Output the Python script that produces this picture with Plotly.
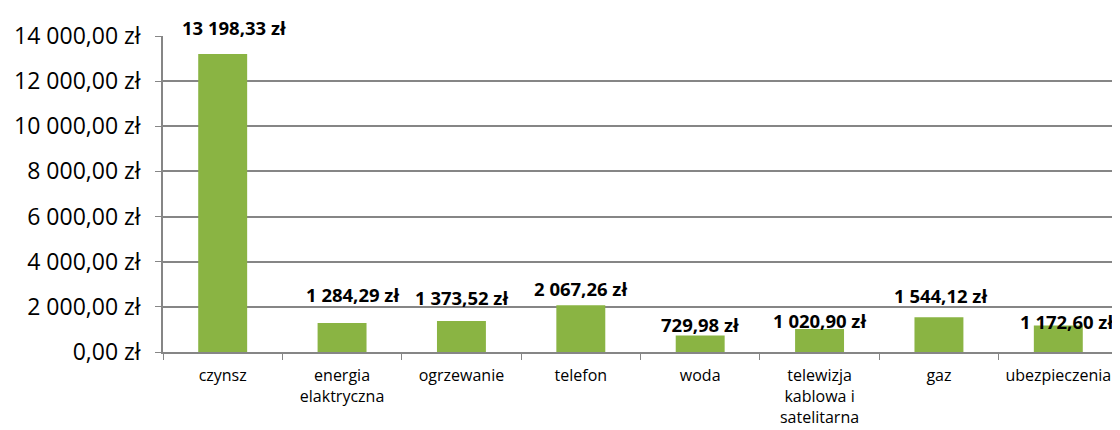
import plotly.graph_objects as go

categories = ['czynsz', 'energia<br>elaktryczna', 'ogrzewanie', 'telefon', 'woda',
              'telewizja<br>kablowa i<br>satelitarna', 'gaz', 'ubezpieczenia']
values = [13198.33, 1284.29, 1373.52, 2067.26, 729.98, 1020.90, 1544.12, 1172.60]
value_labels = ['13 198,33 zł', '1 284,29 zł', '1 373,52 zł', '2 067,26 zł', '729,98 zł',
                '1 020,90 zł', '1 544,12 zł', '1 172,60 zł']
tick_vals = [0, 2000, 4000, 6000, 8000, 10000, 12000, 14000]
tick_text = ['0,00 zł', '2 000,00 zł', '4 000,00 zł', '6 000,00 zł', '8 000,00 zł',
             '10 000,00 zł', '12 000,00 zł', '14 000,00 zł']

# label offsets (px) as placed in the original
label_yshift = [27, 29, 24, 17, 11, 8, 22, 4]
label_xshift = [11, 10, 0, 0, 0, 0, 2, 8]

fig = go.Figure(go.Bar(x=categories, y=values, width=0.41,
                       marker=dict(color='#8ab443', line=dict(width=0))))

for c, v, t, dy, dx in zip(categories, values, value_labels, label_yshift, label_xshift):
    fig.add_annotation(x=c, y=v, text='<b>%s</b>' % t, showarrow=False,
                       yshift=dy, xshift=dx, yanchor='middle',
                       font=dict(family='Open Sans', size=18.5, color='black'))

# page body has an 8px margin, so the figure is sized to fit the window
fig.update_layout(
    width=1112, height=422, plot_bgcolor='white', paper_bgcolor='white',
    margin=dict(l=155, r=2, t=28, b=78), showlegend=False,
    font=dict(family='Open Sans', color='black'),
)
fig.update_yaxes(range=[0, 14000], tickvals=tick_vals, ticktext=tick_text,
                 tickfont=dict(size=23), showgrid=True, gridcolor='#868686', gridwidth=1.5,
                 showline=True, linecolor='#868686', linewidth=1.5,
                 ticks='outside', ticklen=6, tickcolor='#868686', zeroline=False,
                 ticklabelstandoff=10, automargin=False)
fig.update_xaxes(tickfont=dict(size=16), showline=True, linecolor='#868686', linewidth=1.5,
                 ticks='outside', ticklen=6, tickcolor='#868686', tickson='boundaries',
                 ticklabelstandoff=8, automargin=False)
fig.write_html("out.html")
